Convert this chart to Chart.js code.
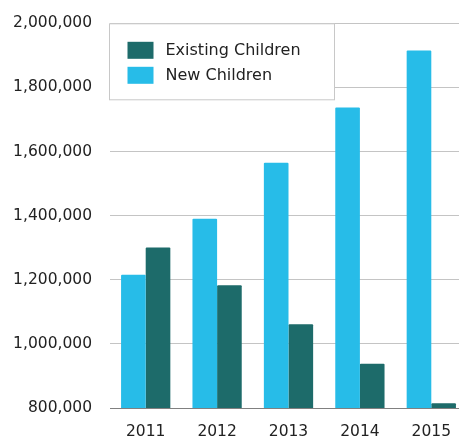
<!DOCTYPE html>
<html>
<head>
<meta charset="utf-8">
<script src="https://cdn.jsdelivr.net/npm/chart.js@4/dist/chart.umd.min.js"></script>
<style>
  html, body { margin: 0; padding: 0; background: #fff; overflow: hidden; }
  #wrap { width: 467px; height: 442px; margin-top: -4px; position: relative; }
</style>
</head>
<body>
<div id="wrap"><canvas id="childrenChart"></canvas></div>
<script>
// chart data
const years = ['2011', '2012', '2013', '2014', '2015'];
const newChildren = [1216000, 1390000, 1565000, 1737000, 1915000];
const existingChildren = [1301000, 1183000, 1061000, 938000, 815000];
const legendOrder = [1, 0]; // Existing first, then New

const FONT = 'DejaVu Sans';

// draws the boxed legend inside the chart area
const boxLegend = {
    id: 'boxLegend',
    afterDraw(chart) {
        const ctx = chart.ctx;
        const area = chart.chartArea;
        const x = area.left - 0.5;
        const y = area.top + 0.5;
        const w = 225, h = 76;

        ctx.save();
        ctx.fillStyle = '#fff';
        ctx.fillRect(x, y, w, h);
        ctx.strokeStyle = '#c8c8c8';
        ctx.lineWidth = 1;
        ctx.strokeRect(x, y, w, h);

        ctx.font = '16px "' + FONT + '"';
        ctx.textBaseline = 'middle';
        legendOrder.forEach((idx, i) => {
            const ds = chart.data.datasets[idx];
            const sy = y + 18 + i * 25;
            ctx.fillStyle = ds.backgroundColor;
            ctx.fillRect(x + 18, sy, 26, 17);
            ctx.fillStyle = '#222';
            ctx.fillText(ds.label, x + 56, sy + 9);
        });
        ctx.restore();
    }
};

const chart = new Chart(document.getElementById('childrenChart'), {
    type: 'bar',
    data: {
        labels: years,
        datasets: [
            { label: 'New Children', data: newChildren, backgroundColor: '#27bce8', borderRadius: 1 },
            { label: 'Existing Children', data: existingChildren, backgroundColor: '#1d6b6a', borderRadius: 1 }
        ]
    },
    options: {
        responsive: true,
        maintainAspectRatio: false,
        animation: false,
        layout: { padding: { top: 10, left: 0, right: 0, bottom: 0 } },
        plugins: {
            legend: { display: false },
            tooltip: { enabled: false }
        },
        datasets: {
            bar: { categoryPercentage: 0.69, barPercentage: 1 }
        },
        scales: {
            x: {
                grid: { display: false },
                border: { display: true, color: '#808080', width: 1 },
                ticks: { color: '#222', font: { family: FONT, size: 15.5 }, padding: 7 },
                afterFit(scale) { scale.height = 30; }
            },
            y: {
                min: 800000,
                max: 2000000,
                border: { display: false },
                grid: { color: '#c4c4c4', lineWidth: 1, drawTicks: false },
                ticks: {
                    stepSize: 200000,
                    color: '#222',
                    font: { family: FONT, size: 15.5 },
                    padding: 18,
                    callback: v => v.toLocaleString('en-US')
                },
                afterFit(scale) { scale.width = 110; }
            }
        }
    },
    plugins: [boxLegend]
});
</script>
</body>
</html>
